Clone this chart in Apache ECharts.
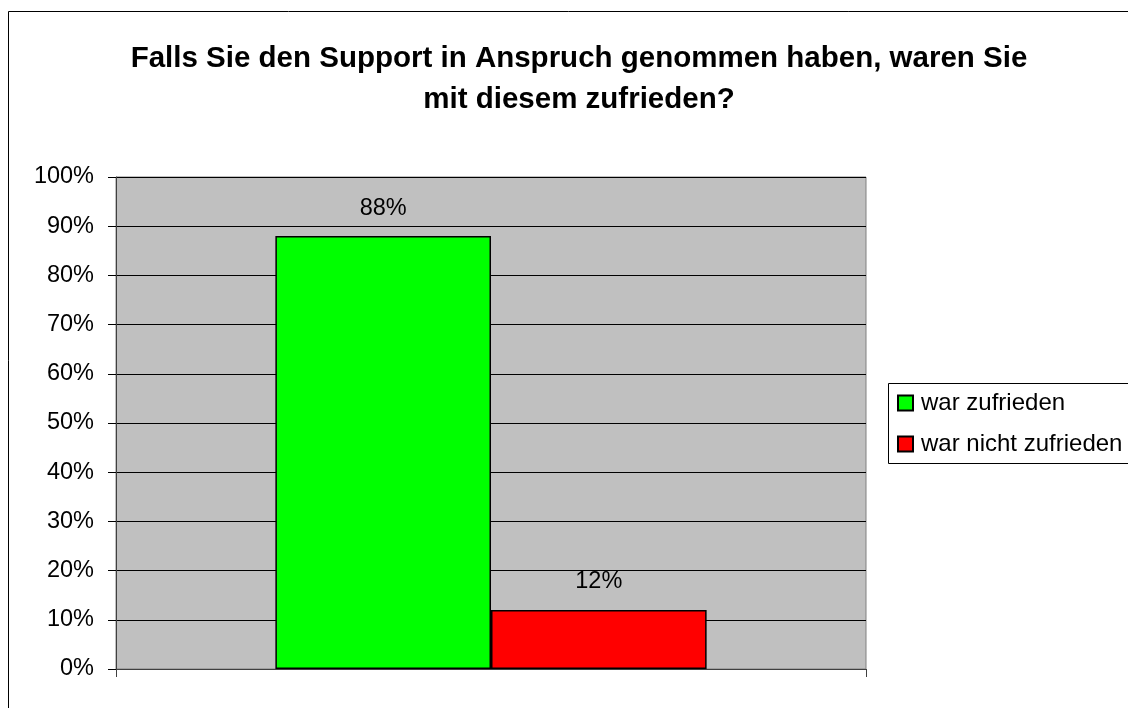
<!DOCTYPE html>
<html>
<head>
<meta charset="utf-8">
<script src="https://cdn.jsdelivr.net/npm/echarts@6/dist/echarts.min.js"></script>
<style>
  html, body { margin: 0; padding: 0; background: #fff; }
  #chart { width: 1128px; height: 708px; }
</style>
</head>
<body>
<div id="chart"></div>
<script>
const titleText = 'Falls Sie den Support in Anspruch genommen haben, waren Sie\nmit diesem zufrieden?'
const categories = ['']
const seriesNames = ['war zufrieden', 'war nicht zufrieden']
const seriesValues = [[88], [12]]
const seriesColors = ['#00FF00', '#FF0000']
const yTicks = { min: 0, max: 100, interval: 10 }

const font = 'Liberation Sans, Arial, sans-serif'

const chart = echarts.init(document.getElementById('chart'))

const option = {
    animation: false,
    textStyle: { fontFamily: font },
    title: {
        text: titleText,
        left: 574,
        top: 33,
        textAlign: 'center',
        textStyle: {
            fontFamily: font,
            fontSize: 29.5,
            fontWeight: 'bold',
            color: '#000',
            lineHeight: 41
        }
    },
    legend: {
        orient: 'vertical',
        left: 897,
        top: 391,
        padding: 0,
        itemWidth: 15,
        itemHeight: 15,
        itemGap: 17,
        icon: 'rect',
        textStyle: { fontFamily: font, fontSize: 24, color: '#000', padding: [0, 0, 0, 3] },
        data: seriesNames
    },
    grid: {
        left: 116,
        right: 262,
        top: 177,
        bottom: 39,
        show: true,
        backgroundColor: '#C0C0C0',
        borderColor: '#808080',
        borderWidth: 1
    },
    xAxis: {
        type: 'category',
        data: categories,
        axisLine: { lineStyle: { color: '#404040' } },
        axisTick: { show: true, length: 8, lineStyle: { color: '#404040' } },
        axisLabel: { show: false }
    },
    yAxis: {
        type: 'value',
        min: yTicks.min,
        max: yTicks.max,
        interval: yTicks.interval,
        axisLine: { show: true, lineStyle: { color: '#404040' } },
        axisTick: { show: true, length: 8, lineStyle: { color: '#000' } },
        axisLabel: {
            formatter: '{value}%',
            fontFamily: font,
            fontSize: 23.5,
            color: '#000',
            margin: 22
        },
        splitLine: { lineStyle: { color: '#000', width: 1 } }
    },
    series: seriesNames.map((name, i) => ({
        name: name,
        type: 'bar',
        data: seriesValues[i],
        barGap: '0%',
        barCategoryGap: '42.5%',
        itemStyle: { color: seriesColors[i], borderColor: '#000', borderWidth: 1.5 },
        label: {
            show: true,
            position: 'top',
            distance: 16,
            formatter: '{c}%',
            fontFamily: font,
            fontSize: 23.5,
            color: '#000'
        }
    })),
    graphic: [
        {
            type: 'rect',
            shape: { x: 8.5, y: 11.5, width: 1200, height: 800 },
            style: { fill: 'none', stroke: '#000', lineWidth: 1 },
            silent: true
        },
        {
            type: 'rect',
            shape: { x: 888.5, y: 383.5, width: 300, height: 80 },
            style: { fill: 'none', stroke: '#000', lineWidth: 1 },
            silent: true
        }
    ]
}

chart.setOption(option)
</script>
</body>
</html>
